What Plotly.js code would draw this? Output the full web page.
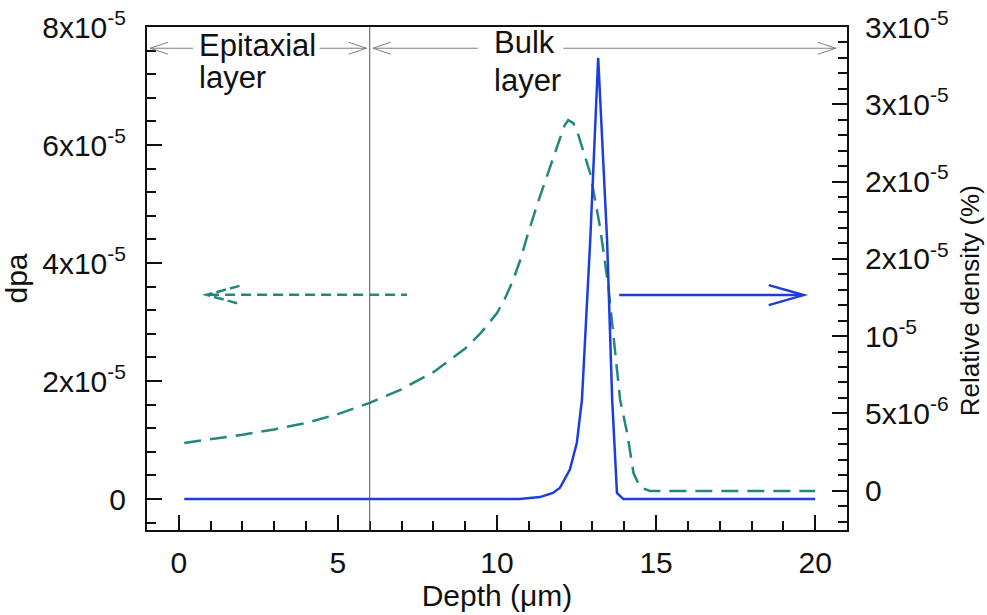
<!DOCTYPE html>
<html>
<head>
<meta charset="utf-8">
<script src="https://cdn.plot.ly/plotly-3.0.1.min.js"></script>
<style>html,body{margin:0;padding:0;background:#fff}#chart{width:987px;height:615px}</style>
</head>
<body>
<div id="chart"></div>
<script>
// ---- data ----
const dpaDepth = [0.17, 1, 2, 3, 4, 5, 6, 7, 8, 9, 9.5, 10, 10.25, 10.5, 10.75, 10.94, 11.3, 11.67, 12.0, 12.12, 12.24, 12.4, 12.55, 12.75, 12.93, 13.24, 13.5, 13.87, 14.09, 14.29, 14.5, 14.8, 20];
const dpaValue = [9.5e-6, 10.1e-6, 10.9e-6, 11.8e-6, 12.9e-6, 14.4e-6, 16.3e-6, 18.6e-6, 21.5e-6, 25.5e-6, 28.2e-6, 31.5e-6, 34.0e-6, 37.0e-6, 40.8e-6, 44.4e-6, 50.5e-6, 56.3e-6, 61.5e-6, 63.3e-6, 64.2e-6, 63.7e-6, 61.8e-6, 58.5e-6, 55.2e-6, 46e-6, 36e-6, 16.8e-6, 11.2e-6, 4.4e-6, 2.0e-6, 1.36e-6, 1.36e-6];

const densDepth = [0.17, 10.7, 11.35, 11.76, 11.98, 12.29, 12.51, 12.61, 12.67, 12.93, 13.18, 13.46, 13.62, 13.77, 13.97, 20];
const densValue = [-0.55e-6, -0.55e-6, -0.42e-6, -0.15e-6, 0.19e-6, 1.36e-6, 3.1e-6, 4.78e-6, 5.88e-6, 16.2e-6, 28.0e-6, 16.2e-6, 5.88e-6, -0.15e-6, -0.55e-6, -0.55e-6];

const xTickVals = [0, 5, 10, 15, 20];
const xTickText = ['0', '5', '10', '15', '20'];
const leftTickVals = [0, 2e-5, 4e-5, 6e-5, 8e-5];
const leftTickText = ['0', '2x10<sup>-5</sup>', '4x10<sup>-5</sup>', '6x10<sup>-5</sup>', '8x10<sup>-5</sup>'];
const rightTickVals = [0, 5e-6, 1e-5, 1.5e-5, 2e-5, 2.5e-5, 3e-5];
const rightTickText = ['0', '5x10<sup>-6</sup>', '10<sup>-5</sup>', '2x10<sup>-5</sup>', '2x10<sup>-5</sup>', '3x10<sup>-5</sup>', '3x10<sup>-5</sup>'];

const green = '#23877f';
const blue = '#1c3ee0';
const grey = '#808080';
const FONT = 'Arial, "Liberation Sans", sans-serif';
const FS = 30;

const traces = [
  {x: dpaDepth, y: dpaValue, type: 'scatter', mode: 'lines', yaxis: 'y',
   line: {color: green, width: 2.5, dash: '17px,9px'}, hoverinfo: 'skip'},
  {x: densDepth, y: densValue, type: 'scatter', mode: 'lines', yaxis: 'y2',
   line: {color: blue, width: 2.5}, hoverinfo: 'skip'}
];

function vHead(x, y, yref, dir, len, half, color, width, dash) {
  const L = dir * len;
  return {type: 'path', xref: 'x', yref: yref, xsizemode: 'pixel', ysizemode: 'pixel',
    xanchor: x, yanchor: y, path: `M ${-L},${half} L 0,0 L ${-L},${-half}`,
    line: {color: color, width: width, dash: dash || 'solid'}};
}
function hLine(x0, x1, y, yref, color, width, dash) {
  return {type: 'line', xref: 'x', yref: yref, x0: x0, x1: x1, y0: y, y1: y,
    line: {color: color, width: width, dash: dash || 'solid'}};
}

const topY = 7.64e-5;
const midYL = 3.46e-5;
const midYR = 1.265e-5;

const shapes = [
  {type: 'line', xref: 'x', yref: 'paper', x0: 6, x1: 6, y0: 0, y1: 1, line: {color: '#555', width: 1}},
  hLine(-0.9, 0.45, topY, 'y', grey, 1),
  vHead(-0.9, topY, 'y', -1, 18, 6, grey, 1),
  hLine(4.42, 5.9, topY, 'y', grey, 1),
  vHead(5.9, topY, 'y', 1, 18, 6, grey, 1),
  hLine(6.1, 9.4, topY, 'y', grey, 1),
  vHead(6.1, topY, 'y', -1, 18, 6, grey, 1),
  hLine(12.08, 20.65, topY, 'y', grey, 1),
  vHead(20.65, topY, 'y', 1, 18, 6, grey, 1),
  hLine(0.95, 7.17, midYL, 'y', green, 2.5, '10px,6px'),
  vHead(0.87, midYL, 'y', -1, 33, 9, green, 2.5, '10px,4px'),
  hLine(13.84, 19.6, midYR, 'y2', blue, 2.5),
  vHead(19.64, midYR, 'y2', 1, 35, 10, blue, 2.5)
];

const AFS = 31;
const annotations = [
  {text: 'Epitaxial', x: 0.58, y: 7.69e-5, xref: 'x', yref: 'y', xanchor: 'left', yanchor: 'middle', showarrow: false, font: {family: FONT, size: AFS, color: '#111'}},
  {text: 'layer', x: 0.58, y: 7.14e-5, xref: 'x', yref: 'y', xanchor: 'left', yanchor: 'middle', showarrow: false, font: {family: FONT, size: AFS, color: '#111'}},
  {text: 'Bulk', x: 9.84, y: 7.73e-5, xref: 'x', yref: 'y', xanchor: 'left', yanchor: 'middle', showarrow: false, font: {family: FONT, size: AFS, color: '#111'}},
  {text: 'layer', x: 9.84, y: 7.10e-5, xref: 'x', yref: 'y', xanchor: 'left', yanchor: 'middle', showarrow: false, font: {family: FONT, size: AFS, color: '#111'}},
  {text: 'Relative density (%)', textangle: -90, xref: 'paper', yref: 'paper', x: 1.176, y: 0.455,
   xanchor: 'center', yanchor: 'middle', showarrow: false, font: {family: FONT, size: 26, color: '#111'}}
];

const axisCommon = {showgrid: false, zeroline: false, showline: true, linecolor: '#111', linewidth: 2,
  ticks: 'inside', ticklen: 15, tickwidth: 2, tickcolor: '#111',
  tickfont: {family: FONT, size: FS, color: '#111'}};

const layout = {
  width: 987, height: 615,
  margin: {l: 147, r: 140, t: 27, b: 85},
  paper_bgcolor: '#fff', plot_bgcolor: '#fff',
  showlegend: false,
  font: {family: FONT, size: FS, color: '#111'},
  xaxis: Object.assign({}, axisCommon, {
    range: [-1, 21], tickmode: 'array', tickvals: xTickVals, ticktext: xTickText,
    mirror: true, ticklabelstandoff: 5,
    minor: {ticks: 'inside', ticklen: 9, tickwidth: 2, tickcolor: '#111', tickmode: 'linear', tick0: 0, dtick: 1},
    title: {text: 'Depth (\u03bcm)', font: {family: FONT, size: 30, color: '#111'}, standoff: 6}
  }),
  yaxis: Object.assign({}, axisCommon, {
    range: [-5.25e-6, 8e-5], tickmode: 'array', tickvals: leftTickVals, ticktext: leftTickText,
    ticklabelstandoff: 13,
    minor: {ticks: 'inside', ticklen: 9, tickwidth: 2, tickcolor: '#111', tickmode: 'linear', tick0: 0, dtick: 4e-6},
    title: {text: 'dpa', font: {family: FONT, size: 30, color: '#111'}, standoff: 6}
  }),
  yaxis2: Object.assign({}, axisCommon, {
    overlaying: 'y', side: 'right', anchor: 'x',
    range: [-2.55e-6, 3e-5], tickmode: 'array', tickvals: rightTickVals, ticktext: rightTickText,
    ticklabelstandoff: 10,
    minor: {ticks: 'inside', ticklen: 9, tickwidth: 2, tickcolor: '#111', tickmode: 'linear', tick0: 0, dtick: 1e-6}
  }),
  shapes: shapes,
  annotations: annotations
};

Plotly.newPlot('chart', traces, layout, {displayModeBar: false, staticPlot: true});
</script>
</body>
</html>
